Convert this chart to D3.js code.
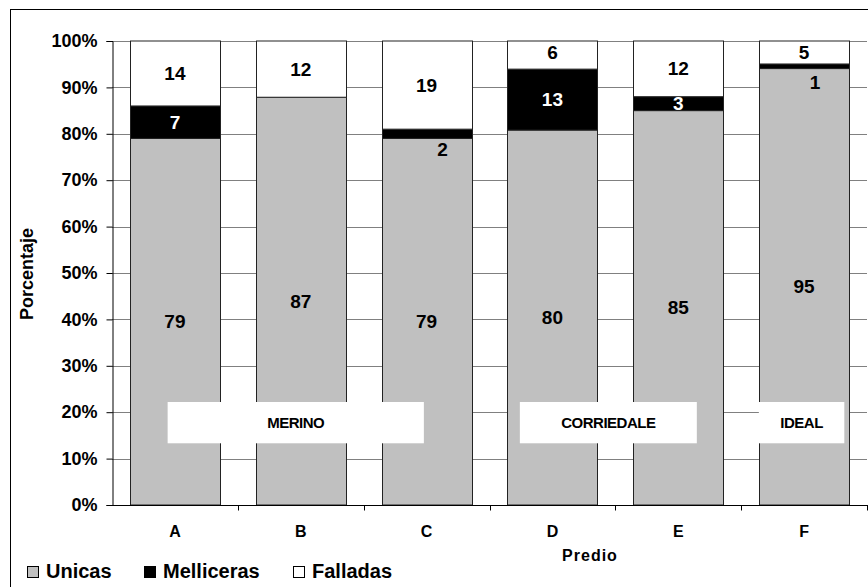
<!DOCTYPE html>
<html><head><meta charset="utf-8">
<script src="https://cdn.jsdelivr.net/npm/d3@7"></script>
<style>body{margin:0;background:#fff}svg{display:block}svg text{font-family:"Liberation Sans",Arial,sans-serif;font-weight:700}</style>
</head><body>
<svg id="c" width="868" height="587"></svg>
<script>
const categories = ["A","B","C","D","E","F"];
const unicas = [79,87,79,80,85,95];
const melliceras = [7,0,2,13,3,1];
const falladas = [14,12,19,6,12,5];
const seriesNames = ["Unicas","Melliceras","Falladas"];
const seriesColors = ["#C0C0C0","#000000","#FFFFFF"];
const yTicks = [0,10,20,30,40,50,60,70,80,90,100];
const groups = [
  {label:"MERINO", from:"A", to:"C"},
  {label:"CORRIEDALE", from:"D", to:"E"},
  {label:"IDEAL", from:"F", to:"F"}
];

const svg = d3.select("#c");
const W=868,H=587;
svg.append("rect").attr("x",10.5).attr("y",9.5).attr("width",W+20).attr("height",H+20)
  .attr("fill","#fff").attr("stroke","#000").attr("stroke-width",1);

const x = d3.scaleBand().domain(categories).range([112,867]).paddingInner(0.285).paddingOuter(0.1425);
const y = d3.scaleLinear().domain([0,100]).range([505,41]);

// gridlines
svg.append("g").selectAll("line").data(yTicks.filter(t=>t>0)).join("line")
  .attr("x1",112).attr("x2",867).attr("y1",d=>Math.round(y(d))+0.5).attr("y2",d=>Math.round(y(d))+0.5)
  .attr("stroke","#808080").attr("stroke-width",1);

const data = categories.map((c,i)=>{
  const vals=[unicas[i],melliceras[i],falladas[i]];
  const tot=d3.sum(vals);
  let acc=0;
  return vals.map((v,k)=>{const y0=acc/tot*100; acc+=v; return {cat:c,k,v,y0,y1:acc/tot*100};});
});

const gBars = svg.append("g");
data.forEach(segs=>{
  segs.forEach(s=>{
    if(s.v<=0) return;
    gBars.append("rect").attr("x",Math.round(x(s.cat))+0.5).attr("width",Math.round(x.bandwidth()))
      .attr("y",y(s.y1)).attr("height",y(s.y0)-y(s.y1))
      .attr("fill",seriesColors[s.k]).attr("stroke","#222").attr("stroke-width",1);
  });
});

// group annotation boxes
const boxH=[22.2,13.3];
const boxShift={MERINO:-5,CORRIEDALE:-7,IDEAL:-2.5};
groups.forEach(g=>{
  const cx=(x(g.from)+x(g.to)+x.bandwidth())/2 + boxShift[g.label];
  const span=x(g.to)+x.bandwidth()-x(g.from);
  const w = g.from===g.to ? span*0.95 : span*(g.label==="MERINO"?0.75:0.82);
  svg.append("rect").attr("x",cx-w/2).attr("y",y(boxH[0])).attr("width",w)
    .attr("height",y(boxH[1])-y(boxH[0])).attr("fill","#fff");
  svg.append("text").attr("x",cx).attr("y",(y(boxH[0])+y(boxH[1]))/2)
    .attr("text-anchor","middle").attr("dominant-baseline","central").attr("font-size",15)
    .attr("letter-spacing",-0.5).text(g.label);
});

// labels
const labelOffsets = {"C-1":[16,16],"F-1":[11,16],"D-2":[0,-3]};
data.forEach(segs=>{
  segs.forEach(s=>{
    if(s.v<=0) return;
    const off = labelOffsets[s.cat+"-"+s.k]||[0,0];
    const onBlack = s.k===1 && off[1]===0;
    svg.append("text").attr("x",x(s.cat)+x.bandwidth()/2+off[0]).attr("y",y((s.y0+s.y1)/2)+off[1])
      .attr("text-anchor","middle").attr("dominant-baseline","central").attr("font-size",19)
      .attr("fill",onBlack?"#fff":"#000").text(s.v);
  });
});

// y axis
const ya = svg.append("g").attr("transform","translate(112.5,0)")
  .call(d3.axisLeft(y).tickValues(yTicks).tickSize(6).tickPadding(9).tickFormat(d=>d+"%"));
ya.select(".domain").attr("stroke","#000");
ya.selectAll(".tick line").attr("stroke","#000");
ya.selectAll("text").attr("font-size",18).attr("font-family","Liberation Sans, Arial").attr("font-weight","bold").attr("fill","#000");

// x axis
const xa = svg.append("g").attr("transform","translate(0,505.5)");
xa.append("line").attr("x1",112).attr("x2",868).attr("stroke","#000");
const bounds = categories.map((c,i)=> x(c)-x.step()*x.paddingInner()/2).slice(1).concat([x(categories[5])+x.bandwidth()+x.step()*x.paddingInner()/2]);
xa.selectAll("line.t").data(bounds).join("line").attr("class","t")
  .attr("x1",d=>Math.round(d)+0.5).attr("x2",d=>Math.round(d)+0.5).attr("y1",0).attr("y2",5).attr("stroke","#000");
xa.selectAll("text").data(categories).join("text")
  .attr("x",d=>x(d)+x.bandwidth()/2).attr("y",31).attr("text-anchor","middle").attr("font-size",16).text(d=>d);

svg.append("text").attr("x",590).attr("y",561).attr("text-anchor","middle").attr("font-size",16)
  .attr("letter-spacing",1).text("Predio");
svg.append("text").attr("transform","translate(33,274) rotate(-90)").attr("text-anchor","middle")
  .attr("font-size",18).text("Porcentaje");

// legend
const legX=[27,144,293];
seriesNames.forEach((n,i)=>{
  svg.append("rect").attr("x",legX[i]+0.5).attr("y",566.5).attr("width",11).attr("height",11)
    .attr("fill",seriesColors[i]).attr("stroke","#000");
  svg.append("text").attr("x",legX[i]+19).attr("y",578).attr("font-size",20).text(n);
});
</script>
</body></html>
